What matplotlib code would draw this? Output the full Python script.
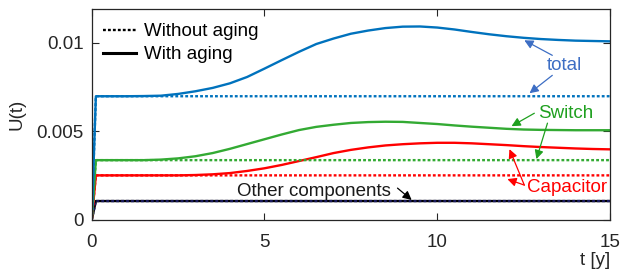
import matplotlib
matplotlib.use("Agg")
import matplotlib.pyplot as plt

plt.rcParams['font.family'] = ['Liberation Sans', 'DejaVu Sans']

# time grid [years]
t = [0, 0.12, 1, 1.5, 2, 2.5, 3, 3.5, 4, 4.5, 5, 5.5, 6, 6.5, 7, 7.5, 8, 8.5,
     9, 9.5, 10, 10.5, 11, 11.5, 12, 12.5, 13, 13.5, 14, 14.5, 15]

# with aging
total_aging = [0, 0.00699, 0.00699, 0.00700, 0.00702, 0.00712, 0.00727, 0.00746, 0.00772,
               0.00808, 0.00855, 0.00903, 0.00950, 0.00994, 0.01025, 0.01052, 0.01070,
               0.01084, 0.01092, 0.01093, 0.01087, 0.01076, 0.01062, 0.01049, 0.01038,
               0.01029, 0.01022, 0.01017, 0.01013, 0.01011, 0.01009]
switch_aging = [0, 0.00338, 0.00338, 0.00338, 0.00341, 0.00348, 0.00360, 0.00378, 0.00402,
                0.00429, 0.00456, 0.00483, 0.00508, 0.00526, 0.00538, 0.00548, 0.00553,
                0.00555, 0.00554, 0.00548, 0.00542, 0.00534, 0.00527, 0.00521, 0.00515,
                0.00511, 0.00509, 0.00508, 0.00507, 0.00507, 0.00507]
cap_aging = [0, 0.00252, 0.00252, 0.00252, 0.00252, 0.00252, 0.00254, 0.00258, 0.00265,
             0.00277, 0.00292, 0.00311, 0.00333, 0.00355, 0.00378, 0.00396, 0.00410,
             0.00421, 0.00428, 0.00433, 0.00436, 0.00436, 0.00433, 0.00428, 0.00423,
             0.00417, 0.00412, 0.00408, 0.00404, 0.00401, 0.00399]
other_level = 0.00107
other_aging = [0] + [other_level] * (len(t) - 1)

# without aging
t_noage = [0, 0.12, 15]
total_noage = [0, 0.00699, 0.00699]
switch_noage = [0, 0.00338, 0.00338]
cap_noage = [0, 0.00252, 0.00252]
other_noage = [0, 0.00107, 0.00107]

xticks = [0, 5, 10, 15]
yticks = [0, 0.005, 0.01]
yticklabels = ['0', '0.005', '0.01']

c_blue = '#0072BD'
c_green = '#33AA33'
c_red = '#FF0000'
c_black = '#000000'

fig = plt.figure(figsize=(6.21, 2.69), dpi=100)
ax = fig.add_axes([0.1477, 0.1822, 0.8346, 0.7832])

lw = 1.7
dots = (0, (1.2, 0.9))

ax.plot(t, other_aging, color=c_black, lw=lw)
ax.plot(t_noage, other_noage, color='#1a1a60', lw=lw, linestyle=dots)
ax.plot(t_noage, cap_noage, color=c_red, lw=lw, linestyle=dots)
ax.plot(t, cap_aging, color=c_red, lw=lw)
ax.plot(t_noage, switch_noage, color=c_green, lw=lw, linestyle=dots)
ax.plot(t, switch_aging, color=c_green, lw=lw)
ax.plot(t_noage, total_noage, color=c_blue, lw=lw, linestyle=dots)
ax.plot(t, total_aging, color=c_blue, lw=lw)

# legend proxies
h1, = ax.plot([], [], color='k', lw=lw, linestyle=(0, (1.2, 0.9)))
h2, = ax.plot([], [], color='k', lw=lw + 0.5)
ax.legend([h1, h2], ['Without aging', 'With aging'], loc='upper left', frameon=False,
          fontsize=13.5, handlelength=1.75, handletextpad=0.4, labelspacing=0.3,
          borderaxespad=0.0, borderpad=0.35, bbox_to_anchor=(0.01, 0.965))

ax.set_xlim(0, 15)
ax.set_ylim(0, 0.0119)
ax.set_xticks(xticks)
ax.set_xticklabels([str(v) for v in xticks])
ax.set_yticks(yticks)
ax.set_yticklabels(yticklabels)
ax.tick_params(axis='both', direction='in', top=True, right=True, length=5, width=0.8,
               labelsize=13.5, colors='#262626')
ax.tick_params(axis='x', pad=10)
ax.tick_params(axis='y', pad=6)
for s in ax.spines.values():
    s.set_linewidth(0.9)
    s.set_color('#262626')

ax.set_ylabel('U(t)', fontsize=13.5, color='#262626', labelpad=8)
ax.set_xlabel('t [y]', fontsize=13.5, color='#262626', loc='right', labelpad=1)

fs = 13.5
ap = lambda c: dict(arrowstyle='-|>', color=c, lw=0.9, mutation_scale=13,
                    shrinkA=0, shrinkB=0)

tb = '#3D6EC4'
ax.text(13.68, 0.00874, 'total', color=tb, fontsize=fs, ha='center', va='center')
ax.annotate('', xy=(12.52, 0.01015), xytext=(13.33, 0.0093), arrowprops=ap(tb))
ax.annotate('', xy=(12.67, 0.00716), xytext=(13.33, 0.00817), arrowprops=ap(tb))

tg = '#1FA01F'
ax.text(13.71, 0.00603, 'Switch', color=tg, fontsize=fs, ha='center', va='center')
ax.annotate('', xy=(12.15, 0.0053), xytext=(12.81, 0.00603), arrowprops=ap(tg))
ax.annotate('', xy=(12.87, 0.00344), xytext=(13.19, 0.00547), arrowprops=ap(tg))

ax.text(12.61, 0.00186, 'Capacitor', color=c_red, fontsize=fs, ha='left', va='center')
ax.annotate('', xy=(12.09, 0.0040), xytext=(12.52, 0.00197), arrowprops=ap(c_red))
ax.annotate('', xy=(12.03, 0.00231), xytext=(12.52, 0.00197), arrowprops=ap(c_red))

ax.text(4.2, 0.00163, 'Other components', color='#1a1a1a', fontsize=fs, ha='left', va='center')
ax.annotate('', xy=(9.26, 0.00113), xytext=(8.85, 0.0018), arrowprops=ap('k'))

fig.savefig('out.png', dpi=100)
